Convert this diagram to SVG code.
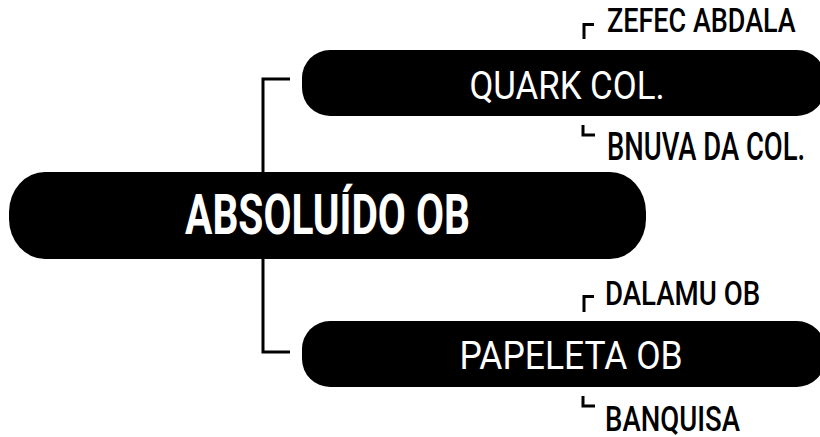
<svg xmlns="http://www.w3.org/2000/svg" width="820" height="437" viewBox="0 0 820 437">
<style>
.box{fill:#000}
.lt{fill:#fff;font-family:Roboto,"DejaVu Sans",sans-serif;text-anchor:middle}
.st{fill:#000;font-family:Roboto,"DejaVu Sans",sans-serif;font-weight:500}
.ln{fill:none;stroke:#000;stroke-width:3}
.br{fill:none;stroke:#000;stroke-width:3}
</style>
<rect width="820" height="437" fill="#fff"/>
<g id="connectors">
<path class="ln" d="M290,79 H263 V352 H290"/>
</g>
<g id="node-main">
<rect class="box" x="9" y="172" width="637" height="87" rx="36" ry="40"/>
<text class="lt" transform="translate(327.5,234) scale(0.8,1)" font-size="56" font-weight="700" textLength="356" lengthAdjust="spacingAndGlyphs">ABSOLUÍDO OB</text>
</g>
<g id="node-quark">
<rect class="box" x="302" y="50" width="523" height="66" rx="28" ry="28"/>
<text class="lt" transform="translate(567,99) scale(0.8,1)" font-size="39" textLength="244" lengthAdjust="spacingAndGlyphs">QUARK COL.</text>
</g>
<g id="node-papeleta">
<rect class="box" x="302" y="321" width="523" height="66" rx="28" ry="28"/>
<text class="lt" transform="translate(571,369) scale(0.8,1)" font-size="39" textLength="279" lengthAdjust="spacingAndGlyphs">PAPELETA OB</text>
</g>
<g id="leaf-zefec">
<path class="br" d="M584,39 V24.5 H594"/>
<text class="st" transform="translate(607,32) scale(0.78,1)" font-size="34" textLength="242" lengthAdjust="spacingAndGlyphs">ZEFEC ABDALA</text>
</g>
<g id="leaf-bnuva">
<path class="br" d="M583,125 V135 H595"/>
<text class="st" transform="translate(607,160) scale(0.78,1)" font-size="38" textLength="254" lengthAdjust="spacingAndGlyphs">BNUVA DA COL.</text>
</g>
<g id="leaf-dalamu">
<path class="br" d="M584,312 V296.5 H594"/>
<text class="st" transform="translate(605,305) scale(0.78,1)" font-size="33" textLength="199" lengthAdjust="spacingAndGlyphs">DALAMU OB</text>
</g>
<g id="leaf-banquisa">
<path class="br" d="M583,396 V406 H595"/>
<text class="st" transform="translate(605,431) scale(0.78,1)" font-size="35" textLength="173" lengthAdjust="spacingAndGlyphs">BANQUISA</text>
</g>
</svg>
